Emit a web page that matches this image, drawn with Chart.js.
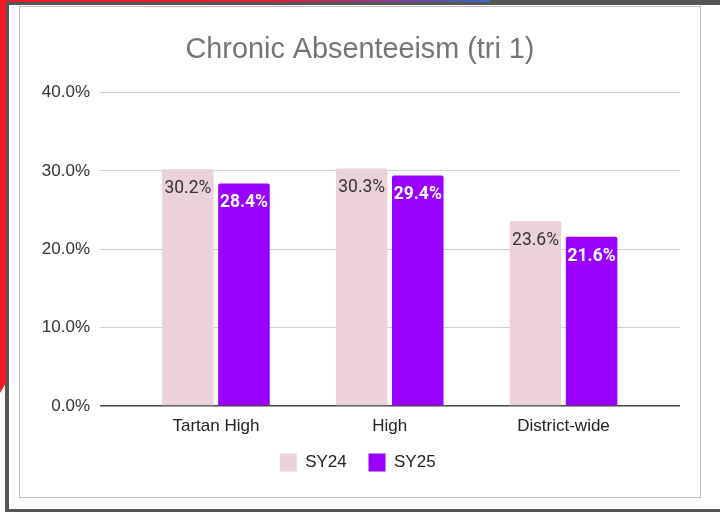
<!DOCTYPE html>
<html><head><meta charset="utf-8">
<script src="https://cdn.jsdelivr.net/npm/chart.js@4.4.1/dist/chart.umd.min.js"></script>
<style>
html,body{margin:0;padding:0;background:#fff;width:720px;height:512px;overflow:hidden}
.f{position:absolute}
</style></head><body>
<div class="f" style="left:5px;top:0;width:715px;height:5px;background:#555"></div>
<div class="f" style="left:5px;top:0;width:4px;height:512px;background:#555"></div>
<div class="f" style="left:5px;top:509px;width:715px;height:3px;background:#555"></div>
<div class="f" style="left:0;top:0;width:490px;height:2px;background:linear-gradient(90deg,#ed1c24 0%,#e41f30 55%,#8a3a98 80%,#2f6cc4 100%)"></div>
<div class="f" style="left:0;top:0;width:6px;height:393px;background:#ed1c24;clip-path:polygon(0 0,100% 0,100% 383px,0 393px)"></div>
<div class="f" style="left:19px;top:6px;width:682px;height:492px;border:1.5px solid #bdbdbd;box-sizing:border-box;background:#fff"></div>
<canvas id="c" width="720" height="512" style="position:absolute;left:0;top:0"></canvas>
<script>
const titleText = 'Chronic Absenteeism (tri 1)';
const categories = ['Tartan High', 'High', 'District-wide'];
const seriesNames = ['SY24', 'SY25'];
const sy24 = [30.2, 30.3, 23.6];
const sy25 = [28.4, 29.4, 21.6];
const yTicks = [0, 10, 20, 30, 40];

const colors = ['#ead1dc', '#9900ff'];
const labelColors = ['#333333', '#ffffff'];
const labelWeights = ['normal', 'bold'];

const dataLabels = {
  id: 'dataLabels',
  afterDatasetsDraw(chart) {
    const ctx = chart.ctx;
    chart.data.datasets.forEach((ds, di) => {
      const meta = chart.getDatasetMeta(di);
      meta.data.forEach((el, i) => {
        const v = ds.data[i].y;
        ctx.save();
        ctx.font = labelWeights[di] + ' 17.5px Roboto';
        ctx.fillStyle = labelColors[di];
        ctx.textAlign = 'center';
        ctx.textBaseline = 'middle';
        ctx.translate(el.x, el.y + 19);
        ctx.scale(1, 1.1);
        ctx.fillText(v.toFixed(1) + '%', 0, 0);
        ctx.restore();
      });
    });
  }
};

new Chart(document.getElementById('c'), {
  type: 'bar',
  data: {
    datasets: [
      { label: seriesNames[0], data: sy24.map((v, i) => ({x: i, y: v})), backgroundColor: colors[0], borderRadius: 2, borderSkipped: 'bottom' },
      { label: seriesNames[1], data: sy25.map((v, i) => ({x: i, y: v})), backgroundColor: colors[1], borderRadius: 2, borderSkipped: 'bottom' }
    ]
  },
  options: {
    responsive: false,
    devicePixelRatio: 1,
    animation: false,
    categoryPercentage: 0.645,
    barPercentage: 0.92,
    layout: { padding: { left: 40, right: 40, top: 0, bottom: 30.5 } },
    plugins: {
      tooltip: { enabled: false },
      title: {
        display: true, text: titleText, color: '#757575',
        font: { family: 'Liberation Sans, Arial', size: 28.8, weight: 'normal' },
        padding: { top: 32.5, bottom: 25.4 }
      },
      legend: {
        position: 'bottom',
        labels: {
          boxWidth: 17, boxHeight: 18, padding: 17, color: '#222',
          font: { family: 'Liberation Sans, Arial', size: 17 },
          generateLabels: chart => chart.data.datasets.map((ds, i) => ({
            text: ds.label + ' ', fillStyle: ds.backgroundColor, strokeStyle: ds.backgroundColor,
            lineWidth: 0, hidden: false, datasetIndex: i, fontColor: '#222'
          }))
        }
      }
    },
    scales: {
      x: {
        type: 'linear', min: -0.667, max: 2.67, offset: false,
        grid: { display: false, drawTicks: false, offset: false },
        border: { display: false },
        afterBuildTicks: s => { s.ticks = categories.map((c, i) => ({ value: i })); },
        afterFit: s => { s.height = 30.5; },
        ticks: {
          padding: 10, color: '#222',
          font: { family: 'Liberation Sans, Arial', size: 17 },
          callback: v => categories[v]
        }
      },
      y: {
        min: 0, max: 40,
        afterBuildTicks: s => { s.ticks = yTicks.map(v => ({ value: v })); },
        afterFit: s => { s.width = 60; },
        grid: {
          drawTicks: false,
          color: c => c.tick && c.tick.value === 0 ? '#444' : '#d0d0d0',
          lineWidth: c => c.tick && c.tick.value === 0 ? 1.6 : 1
        },
        border: { display: false },
        ticks: {
          padding: 10, color: '#333',
          font: { family: 'Liberation Sans, Arial', size: 17 },
          callback: v => v.toFixed(1) + '%'
        }
      }
    }
  },
  plugins: [dataLabels]
});
</script>
</body></html>
